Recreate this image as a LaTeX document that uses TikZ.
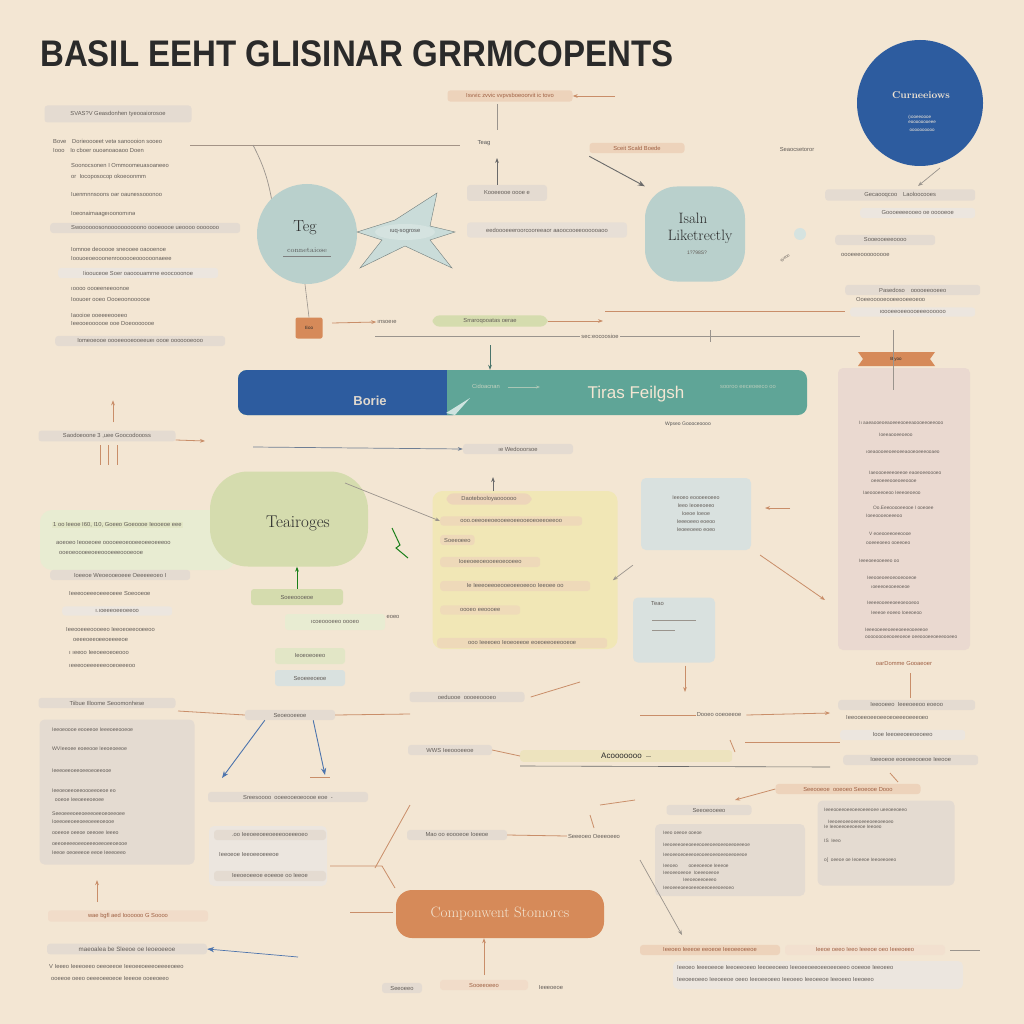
\documentclass[tikz,border=0pt]{standalone}
\usepackage{fontspec}
\setsansfont{Liberation Sans}
\usetikzlibrary{arrows.meta,shapes.geometric,calc}
\definecolor{bgc}{HTML}{F3E6D3}
\definecolor{ttl}{HTML}{2A2A2A}
\definecolor{dblue}{HTML}{2D5C9F}
\definecolor{tealb}{HTML}{5FA597}
\definecolor{paleteal}{HTML}{B9D0CC}
\definecolor{palegreen}{HTML}{D5DCAE}
\definecolor{paleyel}{HTML}{F1E7B6}
\definecolor{orng}{HTML}{D68A59}
\definecolor{pinkp}{HTML}{EAD9D0}
\definecolor{paleorg}{HTML}{EDD3BB}
\definecolor{palegr}{HTML}{E4DBD1}
\definecolor{pblue}{HTML}{D9E1DF}
\definecolor{txg}{HTML}{625C57}
\definecolor{txo}{HTML}{9E5F42}
\definecolor{lnc}{HTML}{C98E69}
\definecolor{lng}{HTML}{9A948D}
\tikzset{
 tx/.style={font=\fontsize{5.8}{6.8}\selectfont\sffamily, text=txg, inner sep=1pt},
 bx/.style={tx, fill=#1, rounded corners=3pt, inner xsep=4pt, inner ysep=3pt},
 bx/.default=palegr,
 pan/.style={fill=#1, rounded corners=5pt, inner sep=0pt},
 pan/.default=palegr,
 oarr/.style={draw=lnc, line width=0.8pt, -{Stealth[length=5pt]}},
 garr/.style={draw=lng, line width=0.7pt, -{Stealth[length=5pt]}},
 barr/.style={draw=dblue!85, line width=0.9pt, -{Stealth[length=7pt]}},
 oline/.style={draw=lnc, line width=0.8pt},
 gline/.style={draw=lng, line width=0.6pt},
 big/.style={font=\fontsize{#1}{#1}\selectfont, text=ttl},
}
\newcommand\gt[4][]{\node[tx,anchor=west,#1] (#2) at #3 {#4};}
\begin{document}
\begin{tikzpicture}[x=1pt,y=-1pt]
\fill[bgc] (0,0) rectangle (1024,1024);
\useasboundingbox (0,0) rectangle (1024,1024);

% title
\node[anchor=base west, inner sep=0, font=\fontsize{37}{37}\selectfont\sffamily\bfseries, text=ttl] (title) at (40,67) {\scalebox{0.893}[1]{BASIL EEHT GLISINAR GRRMCOPENTS}};

% ---------- top left list ----------
\node[bx, minimum width=147pt, minimum height=17pt] (lh) at (118,114) {SVAS?V Geasdonhen tyeooaiorosoe};
\gt{l1}{(52,141)}{Bove\quad Dorieoooeet vetə sanoooion sooeo}
\gt{l2}{(52,150)}{Iooo\quad Io cboer ouoənoaoaoo Doen}
\gt{l3}{(70,166)}{Soonocsonen I Ommoomeuasoaneeo}
\gt{l4}{(70,177)}{or\ \ Iocoposocop okoeoonmm}
\gt{l5}{(70,195)}{Iuenmnnsoons oər oaunessooonoo}
\gt{l6}{(70,214)}{Ioeonaimaageıoonomınə}
\node[bx, minimum width=190pt, anchor=west] (l7) at (50,228) {Swoooooosonoooooooooono oooeoooe ueoooo ooooooo};
\gt{l8}{(70,249)}{Iomnoe deooooe sneooee oaooenoe}
\gt{l9}{(70,259)}{Ioouoeoeooonenroooooeoooooonaeee}
\node[bx, minimum width=160pt, anchor=west, fill=palegr!70] (l10) at (58,273) {Iioouceoe Soer oaooouamrne eoocooonoe};
\gt{l11}{(70,289)}{ıoooo oooeeneeoonoe}
\gt{l12}{(70,300)}{Ioouoer ooeo Oooeoonoooooe}
\gt{l13}{(70,315)}{Iaooioe ooeeeeooeeo}
\gt{l14}{(70,324)}{Ieeooeoooooe ooe Doeooooooe}
\node[bx, minimum width=170pt, anchor=west] (l15) at (55,341) {Iomeoeooe oooeeooeooeeueı oooe ooooooeooo};

% top connectors
\coordinate (h1) at (190,145);
\coordinate (h2) at (460,145);
\draw[gline, draw=lng!80!lnc] (h1) -- (h2);
\node[tx, text=ttl!80] (teag) at (484,143) {Teag};
\node[bx=paleorg, text=txo, minimum width=125pt] (topc) at (510,96) {Isvvic zvvic vvpvsboeoorvit ic tovo};
\coordinate (topa) at (615,96);
\draw[oarr] (topa) -- (topc.east);
\coordinate (tv1) at (497,104);
\coordinate (tv2) at (497,130);
\draw[gline] (tv1) -- (tv2);
\node[bx, minimum width=80pt, minimum height=16pt] (smb) at (507,193) {Kooeeooe oooe e};
\coordinate (tv3) at (497,158);
\draw[garr, draw=ttl!70] (smb.north -| tv3) -- (tv3);
\node[bx=paleorg, text=txo, minimum width=95pt] (sceit) at (637,148) {Sceit Scald Boede};
\node[tx] (seao) at (797,150) {Seaocsetoror};

% blue circle
\node[circle, fill=dblue, minimum size=126pt, inner sep=0] (conn) at (920,103) {};
\node[font=\fontsize{10}{10}\selectfont\bfseries, text=bgc] (connT) at (921,95) {Curneeiows};
\node[tx, text=bgc!85, align=left, font=\fontsize{4.5}{5}\selectfont\sffamily] (connS) at (922,119) {(ıooeeoooe\\ eoooooooeee};
\node[tx, text=bgc!85, font=\fontsize{4.5}{5}\selectfont\sffamily] (connS2) at (922,130) {oooooooooo};
\coordinate (ca) at (940,168);
\draw[garr] (ca) -- (918,186);

% Teg circle
\node[circle, fill=paleteal, minimum size=100pt, inner sep=0] (teg) at (307,234) {};
\node[big=16] (tegT) at (305,228) {Teg};
\node[font=\fontsize{7}{7}\selectfont, text=ttl!80] (tegS) at (307,250) {connetaiose};
\draw[ttl!60, line width=0.5pt] (tegS.south west) -- (tegS.south east);
\draw[gline, line width=0.7pt] (h1) ++(63,0) to[bend left=8] (teg.north west);

% kite shape
\coordinate (kc) at (405,232);
\fill[paleteal!75] (357,232) -- (395,220) -- (437,193) -- (430,226) -- (455,232) -- (430,240) -- (452,268) -- (405,246) -- (360,268) -- (382,240) -- cycle;
\draw[paleteal!50!ttl, line width=0.4pt] (357,232) -- (395,220) -- (437,193) -- (430,226) -- (455,232) -- (430,240) -- (452,268) -- (405,246) -- (360,268) -- (382,240) -- cycle;
\node[ellipse, fill=paleteal!60, tx, text=ttl!80, minimum width=60pt, minimum height=16pt] (kite) at (kc) {ıuq-sogrose};
\node[bx, minimum width=160pt, minimum height=15pt, fill=palegr!90] (long1) at (547,230) {eedoooeeeroorcooreeaor aaoocooeeoooooaoo};

% Isaln blob
\node[rounded corners=32pt, fill=paleteal, minimum width=100pt, minimum height=95pt] (isa) at (695,234) {};
\node[big=15] (isa1) at (693,218) {Isaln};
\node[big=15] (isa2) at (700,237) {Liketrectly};
\node[tx, text=txg, font=\fontsize{5}{5}\selectfont\sffamily] (isa3) at (697,253) {1?798S?};
\draw[barr, draw=ttl!70] (sceit.south west) ++(0,3) -- (isa.north west);
\node[circle, fill=paleteal!60, minimum size=12pt, inner sep=0] (dood) at (800,234) {};
\node[tx, rotate=35, font=\fontsize{4}{4.5}\selectfont\sffamily] (doodt) at (785,258) {Weoo};

% right top items
\node[bx, minimum width=150pt, anchor=west] (r1) at (825,195) {Gecaooqcoo\quad Laoloocooes};
\node[bx, minimum width=115pt, anchor=west, fill=palegr!70] (r2) at (860,213) {Goooeeeeooeo oe ooooeoe};
\node[bx, minimum width=100pt, anchor=west] (r3) at (835,240) {Sooeooeeeoooo};
\gt{r4}{(840,255)}{oooeeeooooooooe}
\node[bx, minimum width=135pt, anchor=west] (r5) at (845,290) {Pasedoso\quad ooooeeooeeo};
\gt{r6}{(855,300)}{Ooeeooooeooeeooeeoeoo}
\node[bx, minimum width=125pt, anchor=west, fill=palegr!70] (r7) at (850,312) {ıoooeeoeeoooeeeoooooo};

% row at 320
\node[fill=orng, text=ttl, font=\fontsize{4.5}{5}\selectfont\sffamily, minimum width=27pt, minimum height=21pt, inner sep=0, rounded corners=2pt] (eoo) at (309,328) {Eoo};
\draw[gline] (teg.south) ++(-2,0) -- (eoo.north);
\coordinate (a1) at (332,323);
\node[tx] (ins) at (387,322) {ınsoeıe};
\draw[oarr] (a1) -- (ins.west);
\node[bx=palegreen, minimum width=115pt, rounded corners=7pt] (srr) at (490,321) {Srraroqooatas oerae};
\coordinate (a2) at (603,321);
\draw[oarr] (srr.east) -- (a2);
\coordinate (a3) at (605,311);
\draw[oline] (a3) -- (r5.west |- a3);
\coordinate (a4) at (375,336);
\coordinate (a5) at (860,336);
\draw[gline] (a4) -- (a5);
\node[tx, fill=bgc] (sec) at (600,336) {sec:eocoosioe};
\draw[gline] (710,330) -- (710,342);

% main bar
\node[fill=tealb, rounded corners=9pt, minimum width=569pt, minimum height=45pt, inner sep=0] (bar) at (522.5,392.5) {};
\fill[dblue, rounded corners=9pt] (238,370) rectangle (462,415);
\fill[tealb] (447,370) rectangle (470,415);
\fill[white!70!tealb] (446,413) -- (470,398) -- (455,415) -- cycle;
\node[font=\fontsize{13}{13}\selectfont\sffamily\bfseries, text=bgc!90!dblue] (borie) at (370,401) {Borie};
\node[font=\fontsize{17}{17}\selectfont\sffamily, text=bgc] (tiras) at (636,394) {Tiras Feilgsh};
\node[tx, text=bgc!70!tealb] (cid) at (486,386) {Cidoacnan};
\draw[bgc!50!tealb, -{Stealth[length=4pt]}, line width=0.6pt] (508,387) -- (540,387);
\node[tx, text=bgc!60!tealb] (soor) at (748,387) {sooroo eeceoeeco oo};
\node[tx, text=ttl!80, font=\fontsize{5}{5}\selectfont\sffamily] (wps) at (688,424) {Wpseo Goooceoooo};
\draw[garr, draw=tealb!60!ttl] (490,345) -- (bar.north -| 490,0);

% right tall panel
\node[pan=pinkp, minimum width=132pt, minimum height=282pt] (rp) at (904,509) {};
\fill[orng] (858,352) -- (935,352) -- (930,359) -- (935,366) -- (858,366) -- (863,359) -- cycle;
\node[tx, text=ttl, font=\fontsize{4.5}{5}\selectfont\sffamily] (rib) at (896,359) {Blyoo};
\draw[gline] (893,330) -- (893,390);
\foreach \yy/\xx/\tt [count=\i] in {423/858/Iı aaeaooeoeaoeeeooeeaoooeeoeeooo, 435/878/Ioeeaooeeoeoo, 452/865/ıoeaoooeeoeeoeeaooeoeeeooaeo, 473/868/Iaeoooeeeeoeeoe eaoeoeeoooeo, 481/870/oeeoeeeooeoeeoooe, 493/862/Iaeoooeeoeoo Ieeeoeoeoo, 508/872/Oo.Eeeooooeeooe I ooeoee, 516/865/Ioeeoooeoeeeoo, 534/868/V eoeooeeoeeoooe, 543/865/ooeeeoeeo ooeeoeo, 561/858/Ieeeoeeooeeeo oo, 578/866/Ieeooeoeeoeooeooeoe, 587/870/ıoeeeoeooeeoeoe, 603/866/Ieeeeooeeeoeeoeooeoo, 613/870/Ieeeoe eoeeo Ioeeoeoo, 630/864/Ieeeooeeeoeeeoeeeooeeeoe, 637/864/ooooooooeooeeoeoe oeeoooeeoeeeooeeo}
  {\node[tx, anchor=west, font=\fontsize{4.8}{5}\selectfont\sffamily] (rpl\i) at (\xx,\yy) {\tt};}
\node[tx, text=txo] (oard) at (904,663) {oarDomme Gooaeoer};

% left middle
\node[bx, minimum width=137pt] (lm) at (107,436) {Saodoeoone 3 ,uee Goocodoooss};
\draw[oarr] (lm.north -| 113,0) ++(0,-8) coordinate (lmu) -- ++(0,-22);
\draw[oline, line width=0.5pt] (100,445) -- (100,465) (108,445) -- (108,465) (117,445) -- (117,465);
\coordinate (lmr) at (205,441);
\draw[oarr] (lm.east) ++(0,4) -- (lmr);
\coordinate (w1) at (253,447);
\node[bx, minimum width=110pt] (wed) at (518,449) {ıe Wedooorsoe};
\draw[garr, draw=dblue!40!lng] (w1) -- (wed.west);

% green blob
\fill[palegreen!55, rounded corners=12pt] (40,510) rectangle (235,570);
\node[rounded corners=38pt, fill=palegreen, minimum width=158pt, minimum height=95pt] (tea) at (289,519) {};
\node[big=17] (teaT) at (298,523) {Teairoges};
\node[tx, anchor=west, fill=palegreen!70] (lg1) at (52,525) {1 oo Ieeoe I60, I10, Goeeo Goeoooe Ieooeoe eee};
\gt{lg2}{(55,543)}{aoeoeo Ieooeoee ooooeeoeooeeoeeoeeeoo}
\gt{lg3}{(58,553)}{ooeoeoooeeoeeoooeeeoooeooe}
\node[bx, anchor=west, minimum width=140pt] (lg4) at (50,575) {Ioeeoe Weoeooeoeee Oeeeeeoeo I};
\gt{lg5}{(68,593)}{Ieeeooeeeoeeeoeee Soeooeoe}
\node[bx, anchor=west, minimum width=110pt, fill=palegr!70] (lg6) at (62,611) {ı.ıoeeeoeeoeeoo};
\gt{lg7}{(65,630)}{Ieeooeeeoooeeo Ieeoeoeeooeeoo}
\gt{lg8}{(72,640)}{oeeeoeeoeeoeeeeoe}
\gt{lg9}{(68,653)}{ı ıeeoo Ieeoeeoeoeooo}
\gt{lg10}{(68,666)}{ıeeeooeeeeeeooeoeeeoo}

% under green blob
\node[bx=palegreen, minimum width=92pt, minimum height=16pt] (ug1) at (297,597) {Soeeoooeoe};
\draw[-{Stealth[length=5pt]}, draw=green!40!ttl, line width=0.8pt] (ug1.north) -- (tea.south -| ug1.north);
\node[bx=palegreen!55, minimum width=100pt, minimum height=16pt] (ug2) at (335,622) {ıcoeoooeeo oooeo};
\node[tx] (ug2b) at (393,617) {eoeo};
\node[bx=palegreen!70, minimum width=70pt, minimum height=16pt] (ug3) at (310,656) {Ieoeoeoeeo};
\node[bx=pblue, minimum width=70pt, minimum height=16pt] (ug4) at (310,678) {Seoeeeoeoe};

% yellow area
\node[fill=paleyel, rounded corners=10pt, minimum width=185pt, minimum height=158pt, inner sep=0] (ya) at (525,570) {};
\node[bx=paleorg!90!paleyel, minimum width=85pt, rounded corners=7pt] (y1) at (489,499) {Daotebooloyaoooooo};
\draw[garr, draw=ttl!70] (y1.north) ++(4,-2) coordinate (y1t) -- ++(0,-14);
\node[bx=paleorg!70!paleyel, anchor=west, minimum width=142pt] (y2) at (440,521) {ooo.oeeoeeoeooeeoeeooeoeoeeoeeoo};
\node[bx=paleorg!70!paleyel, anchor=west] (y3) at (440,540) {Soeeoeeo};
\node[bx=paleorg!70!paleyel, anchor=west, minimum width=100pt] (y4) at (440,562) {Ioeeoeeoeooeeoeooeeo};
\node[bx=paleorg!70!paleyel, anchor=west, minimum width=150pt] (y5) at (440,586) {Ie Ieeeoeeoeooeoeeoeeoo Ieeoee oo};
\node[bx=paleorg!60!paleyel, anchor=west, minimum width=80pt] (y6) at (440,610) {oooeo eeoooee};
\node[bx=paleorg!70!paleyel, anchor=west, minimum width=170pt] (y7) at (437,643) {ooo Ieeeoeo Ieoeoeeoe eoeoeeoeeooeoe};
\draw[garr] (345,483) -- (y2.west);
\draw[green!40!ttl, line width=1pt] (392,528) -- (400,545) -- (396,548) -- (408,558);

% right middle boxes
\node[pan=pblue, minimum width=110pt, minimum height=72pt] (rm) at (696,514) {};
\node[tx, align=center, font=\fontsize{5.3}{8}\selectfont\sffamily] (rmt) at (696,514) {Ieeoeo eoooeeoeeo\\ Ieeo Ieoeeoeeo\\ Ioeoe Ioeoe\\ Ieeeoeeo eoeoo\\ Ieoeeoeeo eoeo};
\node[pan=pblue, minimum width=82pt, minimum height=65pt] (rm2) at (674,630) {};
\node[tx, anchor=west] (rm2a) at (650,604) {Teao};
\draw[gline] (652,620) -- (696,620) (652,630) -- (675,630);
\draw[garr] (rm.south west) ++(-8,15) coordinate (rmx) -- ++(-20,15);
\draw[oarr] (790,508) -- (765,508);
\coordinate (ra1) at (760,555);
\coordinate (ra2) at (825,600);
\draw[oarr] (ra1) -- (ra2);
\draw[oarr] (rm2.south -| 685,0) ++(0,3) -- (685,692);
\draw[oline] (910,673) -- (910,698);

% lower middle
\node[bx, minimum width=115pt] (lo1) at (467,697) {oeduooe\ \ oooeeoooeo};
\draw[oline] (lo1.east) ++(6,0) -- (580,682);
\node[tx] (lo2) at (719,715) {Dooeo ooeoeeoe};
\draw[oline] (640,715) -- (lo2.west);
\draw[oarr] (lo2.east) ++(4,0) -- (830,713);
\node[bx, minimum width=90pt] (seo) at (290,715) {Seoeooeeoe};
\draw[oline] (178,711) -- (seo.west);
\draw[oline] (seo.east) -- (410,714);
\node[bx, minimum width=160pt] (sre) at (288,797) {Sreesoooo\ \ ooeeooeoeoooe eoe\ \ -};
\draw[barr] (seo.south west) ++(20,0) -- (222,778);
\draw[barr] (seo.south east) ++(-22,0) -- (325,775);
\node[bx, minimum width=84pt] (ww) at (450,750) {WWS Ieeoooeeoe};
\node[bx=paleyel!70!palegr, minimum width=212pt, anchor=west, font=\fontsize{8}{9}\selectfont\sffamily, text=ttl] (aco) at (520,756) {Acooooooo\ \ \tiny ---};
\draw[ttl!70, line width=0.6pt] (aco.south west) ++(0,4) -- (830,767);
\draw[oline] (ww.east) -- (aco.west);
\draw[oline] (745,742) -- (840,742);
\draw[oline] (730,740) -- (735,752);
\draw[oline] (310,777) -- (330,777);

% right lower boxes
\node[bx, anchor=west, minimum width=137pt] (rl1) at (838,705) {Ieeooeeo\ \ Ieeeoeeoo eoeoo};
\gt{rl2}{(845,718)}{Ieeooeeoeeoeeoeoeeeoeeeoeo}
\node[bx, anchor=west, minimum width=125pt, fill=palegr!70] (rl3) at (840,735) {Iooe Ieeoeeoeeoeoeeo};
\node[bx, anchor=west, minimum width=135pt] (rl4) at (843,760) {Ioeeoeoe eoeoeeooeoe Ieeooe};

% left bottom list
\node[bx, minimum width=137pt] (lb) at (107,703) {Tiibue Illoome Seoomonhese};
\node[pan, minimum width=155pt, minimum height=145pt] (lbp) at (117,792) {};
\foreach \yy/\tt [count=\i] in {730/\ \ Ieeoeoooe eooeeoe Ieeeoeeooeoe, 749/\ \ WVIeeoee eoeeooe Ieeoeoeeoe, 771/\ \ Ieeeoeeoeeoeeoeoeeooe, 791/\ \ Ieeoeoeeoeeoooeeoeoe eo, 800/\ \ \ \ ooeoe Ieeoeeeoeoee, 814/\ \ Seeoeeeoeeoeeeoeeoeoeeoee, 822/\ \ Ioeeoeeoeeoeeoeeeoeooe, 833/\ \ ooeeoe oeeoe oeeoee Ieeeo, 844/\ \ oeeoeeeeoeeoeeeoeeoeeoeooe, 853/\ \ Ieeoe oeoeeeoe eeoe Ieeeoeeo}
  {\node[tx, anchor=west, font=\fontsize{5.2}{5.5}\selectfont\sffamily] (lbl\i) at (48,\yy) {\tt};}
\node[bx, minimum width=160pt, fill=paleorg!80, text=txo] (wae) at (128,916) {wae bgfl aed Ioooooo G Soooo};
\draw[oarr] (wae.north -| 97,0) ++(0,-8) -- ++(0,-22);
\node[bx, minimum width=160pt, font=\fontsize{6.2}{7}\selectfont\sffamily] (mae) at (127,949) {maeoalea be Sleeoe oe Ieoeoeeoe};
\gt{mae2}{(48,967)}{V Ieeeo Ieeeoeeo oeeoeeoe Ieeoeeoeeeoeeeeoeeo}
\gt{mae3}{(50,979)}{ooeeoe oeeo oeeeoeeoeoe Ieeeoe ooeeoeeo}
\coordinate (ma) at (298,957);
\draw[barr, line width=0.7pt] (ma) -- (mae.east);

% center bottom
\node[pan, minimum width=118pt, minimum height=60pt, fill=palegr!70] (cbp) at (268,856) {};
\node[bx, minimum width=112pt] (cb1) at (270,835) {.oo Ieeoeeoeeoeeeooeeeoeo};
\gt{cb2}{(218,855)}{Ieeoeoe Ieeoeeoeeeoe}
\node[bx, minimum width=112pt] (cb3) at (270,876) {Ieeoeoeeoe eoeeoe oo Ieeoe};
\node[bx, minimum width=100pt] (mao) at (457,835) {Mao oo eoooeoe Ioeeoe};
\node[tx] (sep) at (594,836) {Seeeoeo Oeeeoeeo};
\draw[oline] (mao.east) -- (sep.west);
\draw[oline] (410,805) -- (375,868);
\draw[oline] (330,866) -- (382,866) -- (395,888);
\draw[oline] (600,805) -- (635,800);
\draw[oline] (590,815) -- (594,828);
\draw[oline] (350,912) -- (393,912);
\node[fill=orng, rounded corners=16pt, minimum width=208pt, minimum height=48pt, font=\fontsize{15}{15}\selectfont, text=bgc] (comp) at (500,914) {Componwent Stomorcs};
\draw[oarr] (484,975) -- (comp.south -| 484,0);
\node[bx=paleorg!80, minimum width=88pt, text=txo] (sto) at (484,985) {Sooeeoeeo};
\node[bx, minimum width=40pt] (stl) at (402,988) {Seeoeeo};
\node[tx] (str) at (551,988) {Ieeeoeoe};

% right bottom
\node[bx=paleorg, text=txo, minimum width=145pt] (rb1) at (848,789) {Seeooeoe\ \ ooeoeo Seoeooe Dooo};
\draw[oarr] (rb1.west) -- (735,800);
\draw[oline] (890,773) -- (898,782);
\node[bx, minimum width=85pt] (rb2) at (709,810) {Seeoeooeeo};
\node[pan, minimum width=150pt, minimum height=72pt] (rbp) at (730,860) {};
\foreach \yy/\tt [count=\i] in {833/Ieeo oeeoe ooeoe, 845/Ieeoeeeoeeoeeeooeeoeeoeeoeeoeeeoe, 855/Ieeoeeoeoeeeoeooeeoeeoeeoeeoeeoe, 866/Ieeoeo\ \ \ \ \ \ \ \ ooeeoeeoe Ieeeoe, 873/Ieeoeeoeeoe\ \ Ioeeeoeeoe, 880/\ \ \ \ \ \ \ \ \ \ \ \ \ \ \ Ieeoeoeeoeeeo, 888/Ieeoeeeoeeoeeeoeeoeeeoeeoeo}
  {\node[tx, anchor=west, font=\fontsize{4.8}{5}\selectfont\sffamily] (rbl\i) at (662,\yy) {\tt};}
\node[pan, minimum width=137pt, minimum height=85pt] (rbq) at (886,843) {};
\foreach \yy/\tt [count=\i] in {810/Ieeeooeeoeeoeeoeeeoee ueeoeeoeeo, 822/\ \ \ Ieeoeeoeeoeeoeeeoeeoeeoeo, 827/Ie Ieeoeeoeeoeeoe Ieeoeo, 841/IS\ \ Ieeo, 860/o[\ \ oeeoe oe Ieoeeoe Ieeoeeoeeo}
  {\node[tx, anchor=west, font=\fontsize{4.8}{5}\selectfont\sffamily] (rbm\i) at (823,\yy) {\tt};}
\coordinate (d1) at (640,860);
\draw[garr] (d1) -- (682,935);
\node[bx=paleorg, text=txo, minimum width=140pt] (rb3) at (710,950) {Ieeoeo Ieeeoe eeoeoe Ieeoeeoeeoe};
\node[bx=paleorg!70, text=txo, minimum width=160pt] (rb4) at (865,950) {Ieeoe oeeo Ieeo Ieeeoe oeo Ieeeoeeo};
\draw[gline] (rb4.east) ++(5,0) -- (980,950);
\node[pan, minimum width=290pt, minimum height=28pt, fill=palegr!70] (rb5p) at (818,975) {};
\gt{rb5}{(676,968)}{Ieeoeo Ieeeoeeoe Ieeoeeoeeo Ieeoeeoeeo Ieeoeeoeeoeeoeeoeeo ooeeoe Ieeoeeo}
\gt{rb6}{(676,980)}{Ieeoeeoeeo Ieeoeeoe oeeo Ieeoeeoeeo Ieeoeeo Ieeoeeoe Ieeoeeo Ieeoeeo}
\end{tikzpicture}
\end{document}
